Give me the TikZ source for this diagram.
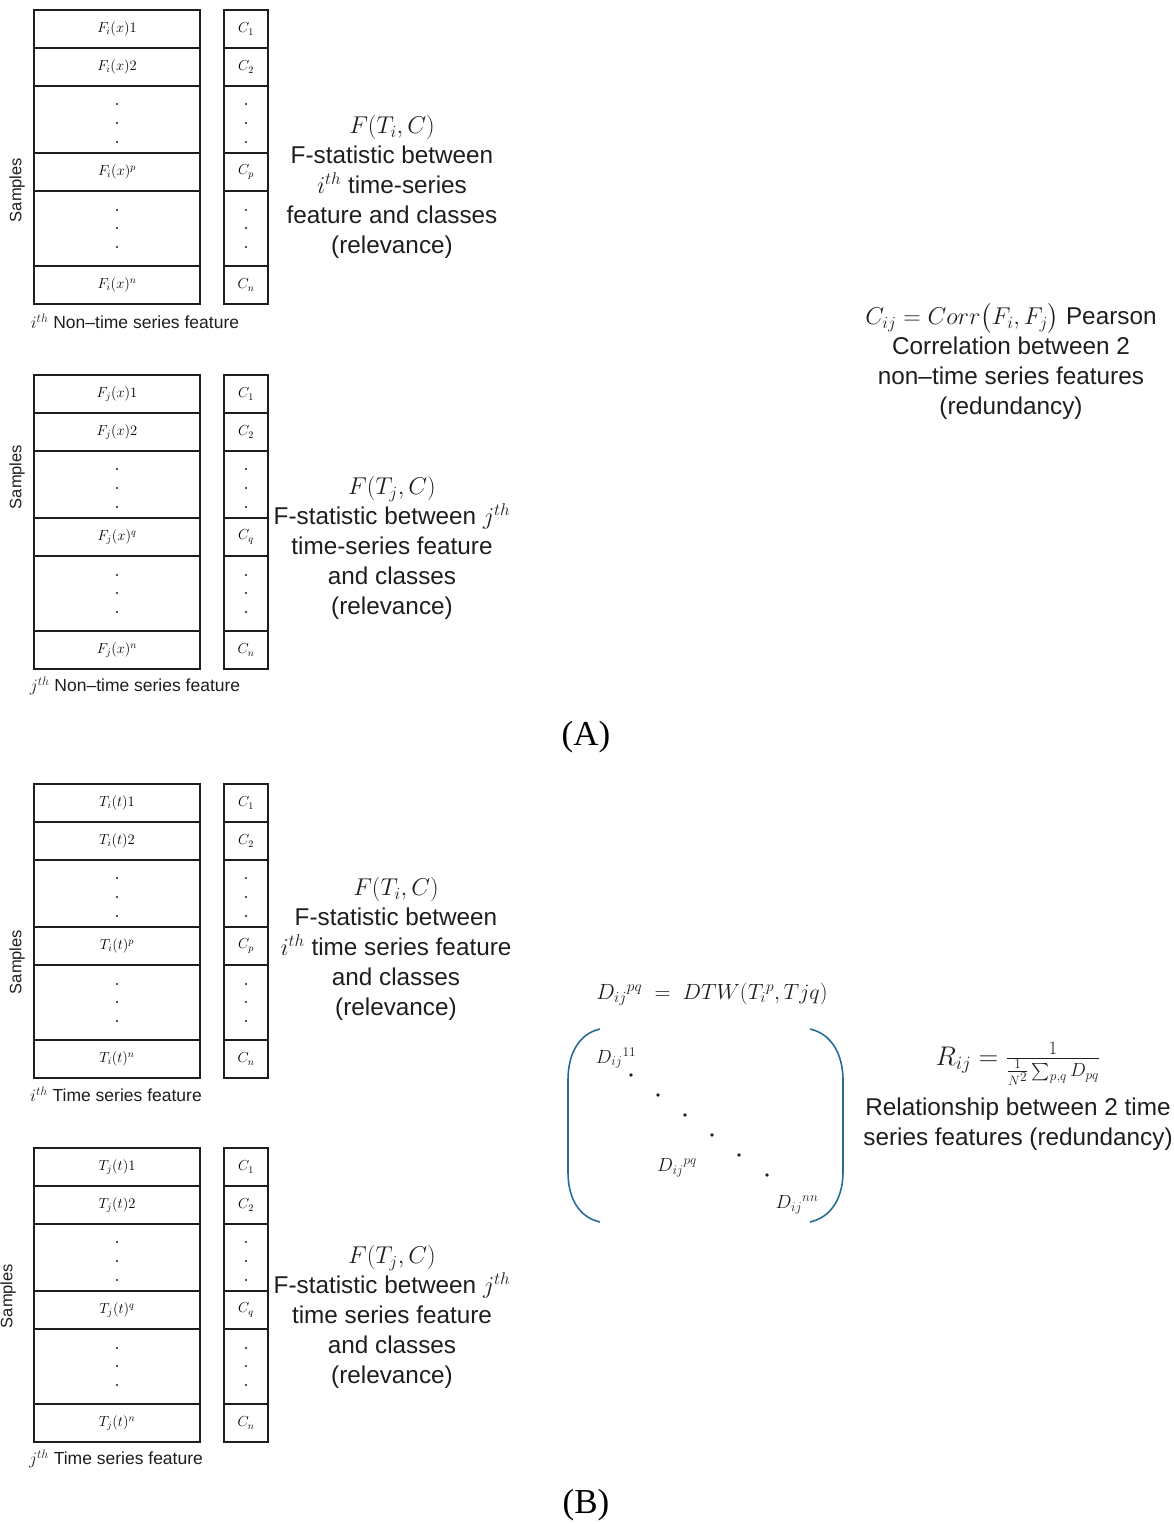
\RequirePackage{fix-cm}
\documentclass[tikz,border=0pt]{standalone}
\usepackage{amsmath}
\usepackage{fontspec}
\setmainfont{Liberation Sans}
\newfontfamily\serifA{Liberation Serif}
\definecolor{brk}{RGB}{40,108,150}
\definecolor{ink}{RGB}{30,30,30}
\tikzset{
  cellL/.style={draw=ink, line width=1.3pt, minimum width=166pt, inner sep=0pt, font=\fontsize{14.5}{16}\selectfont},
  cellR/.style={draw=ink, line width=1.3pt, minimum width=44pt, inner sep=0pt, font=\fontsize{14.5}{16}\selectfont},
  bigtxt/.style={align=center, inner sep=0pt, text=ink, font=\fontsize{24.3}{30}\selectfont},
  captxt/.style={inner sep=0pt, text=ink, font=\fontsize{17.5}{20}\selectfont},
  smptxt/.style={inner sep=0pt, rotate=90, text=ink, font=\fontsize{16.5}{20}\selectfont},
  paneltxt/.style={inner sep=0pt, text=black, font=\serifA\fontsize{35}{40}\selectfont},
  mtx/.style={inner sep=0pt, text=ink, font=\fontsize{19}{22}\selectfont},
  bracket/.style={draw=brk, line width=1.6pt}
}
\newcommand\featblock[7]{%
\begin{scope}[shift={(0,#2)}]
 \node[cellL, minimum height=38pt] (#1L1) at (117,19) {#3};
 \node[cellL, minimum height=38pt] (#1L2) at (117,57) {#4};
 \node[cellL, minimum height=67pt] (#1Ld) at (117,109.5) {};
 \node[cellL, minimum height=38pt] (#1Lp) at (117,162) {#5};
 \node[cellL, minimum height=75pt] (#1Le) at (117,218.5) {};
 \node[cellL, minimum height=38pt] (#1Ln) at (117,275) {#6};
 \node[cellR, minimum height=38pt] (#1R1) at (246,19) {$C_1$};
 \node[cellR, minimum height=38pt] (#1R2) at (246,57) {$C_2$};
 \node[cellR, minimum height=67pt] (#1Rd) at (246,109.5) {};
 \node[cellR, minimum height=38pt] (#1Rp) at (246,162) {#7};
 \node[cellR, minimum height=75pt] (#1Re) at (246,218.5) {};
 \node[cellR, minimum height=38pt] (#1Rn) at (246,275) {$C_n$};
 \foreach \yy in {94,113,132,200,218,237}{
   \fill[ink] (117,\yy) circle (1.1);
   \fill[ink] (246,\yy) circle (1.1);
 }
\end{scope}}
\begin{document}
\begin{tikzpicture}[x=1pt,y=-1pt]
\useasboundingbox (0,0) rectangle (1174,1524);

% ---------- Panel A ----------
\featblock{a}{10}{$F_i(x)1$}{$F_i(x)2$}{$F_i(x)^p$}{$F_i(x)^n$}{$C_p$}
\node[smptxt] (sa) at (17,190) {Samples};
\node[captxt] (capa) at (135,321) {$i^{th}$ Non–time series feature};
\node[bigtxt] (ta) at (392,187) {$F(T_i,C)$\\F-statistic between\\$i^{th}$ time-series\\feature and classes\\(relevance)};

\featblock{b}{375}{$F_j(x)1$}{$F_j(x)2$}{$F_j(x)^q$}{$F_j(x)^n$}{$C_q$}
\node[smptxt] (sb) at (17,477) {Samples};
\node[captxt] (capb) at (135,686) {$j^{th}$ Non–time series feature};
\node[bigtxt] (tb) at (392,548) {$F(T_j,C)$\\F-statistic between $j^{th}$\\time-series feature\\and classes\\(relevance)};

\node[bigtxt] (corr) at (1011,362) {$C_{ij} = Corr\bigl(F_i,F_j\bigr)$ Pearson\\Correlation between 2\\non–time series features\\(redundancy)};

\node[paneltxt] (pA) at (586,737) {(A)};

% ---------- Panel B ----------
\featblock{c}{784}{$T_i(t)1$}{$T_i(t)2$}{$T_i(t)^p$}{$T_i(t)^n$}{$C_p$}
\node[smptxt] (sc) at (17,962) {Samples};
\node[captxt] (capc) at (116,1094) {$i^{th}$ Time series feature};
\node[bigtxt] (tc) at (396,949) {$F(T_i,C)$\\F-statistic between\\$i^{th}$ time series feature\\and classes\\(relevance)};

\featblock{d}{1148}{$T_j(t)1$}{$T_j(t)2$}{$T_j(t)^q$}{$T_j(t)^n$}{$C_q$}
\node[smptxt] (sd) at (8,1296) {Samples};
\node[captxt] (capd) at (116,1459) {$j^{th}$ Time series feature};
\node[bigtxt] (td) at (392,1317) {$F(T_j,C)$\\F-statistic between $j^{th}$\\time series feature\\and classes\\(relevance)};

% DTW matrix
\node[bigtxt, font=\fontsize{22}{26}\selectfont] (dtw) at (712,994) {$D_{ij}{}^{pq} \;=\; DTW(T_i{}^{p},Tjq)$};
\draw[bracket] (600,1029) .. controls (578,1034) and (568,1055) .. (568,1080) -- (568,1172) .. controls (568,1197) and (578,1217) .. (600,1222);
\draw[bracket] (810,1029) .. controls (832,1034) and (843,1055) .. (843,1080) -- (843,1172) .. controls (843,1197) and (832,1217) .. (810,1222);
\node[mtx] (d11) at (616,1058) {$D_{ij}{}^{11}$};
\node[mtx] (dpq) at (677,1168) {$D_{ij}{}^{pq}$};
\node[mtx] (dnn) at (797,1205) {$D_{ij}{}^{nn}$};
\foreach \px/\py in {631/1075,658/1095,685/1115,712/1135,739/1155,767/1175}
  \fill[ink] (\px,\py) circle (1.9);

\node[bigtxt, font=\fontsize{27}{30}\selectfont] (rf) at (1018,1064) {$R_{ij} = \frac{1}{\frac{1}{N^2}\sum_{p,q} D_{pq}}$};
\node[bigtxt] (rt) at (1018,1124) {Relationship between 2 time\\series features (redundancy)};

\node[paneltxt] (pB) at (586,1505) {(B)};
\end{tikzpicture}
\end{document}
